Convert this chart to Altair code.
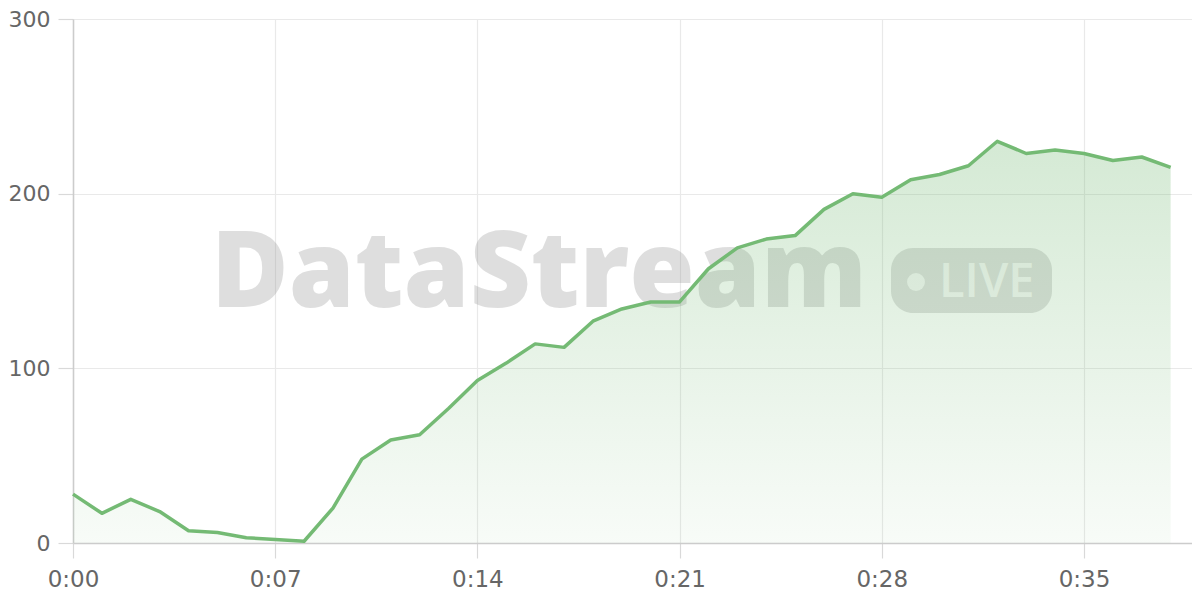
import altair as alt
import pandas as pd

seconds = list(range(39))
values = [28, 17, 25, 18, 7, 6, 3, 2, 1, 20, 48, 59, 62, 77, 93, 103, 114, 112, 127, 134,
          138, 138, 157, 169, 174, 176, 191, 200, 198, 208, 211, 216, 230, 223, 225, 223,
          219, 221, 215]
x_ticks = [0, 7, 14, 21, 28, 35]
y_ticks = [0, 100, 200, 300]
watermark = ["DataStream"]
badge = ["LIVE"]

df = pd.DataFrame({"t": seconds, "v": values})

FONT = "DejaVu Sans"
LINE = "#74ba74"

x_enc = alt.X("t:Q", scale=alt.Scale(domain=[0, 38.74], nice=False, zero=False),
              axis=alt.Axis(values=x_ticks, title=None, labelFlush=False, ticks=True,
                            labelExpr="'0:' + (datum.value < 10 ? '0' : '') + datum.value"))
y_enc = alt.Y("v:Q", scale=alt.Scale(domain=[0, 300], nice=False),
              axis=alt.Axis(values=y_ticks, title=None, labelFlush=False, ticks=True))

wm = alt.Chart(pd.DataFrame({"w": watermark})).mark_text(
    font="Open Sans", fontWeight=800, fontSize=106, align="left", baseline="alphabetic",
    color="#888888", opacity=0.27, limit=0
).encode(x=alt.value(138), y=alt.value(288), text="w:N")

badge_rect = alt.Chart(pd.DataFrame({"w": badge})).mark_rect(
    color="#888888", opacity=0.27, cornerRadius=22
).encode(x=alt.value(818), x2=alt.value(979), y=alt.value(229), y2=alt.value(294))

badge_dot = alt.Chart(pd.DataFrame({"w": badge})).mark_circle(
    color="#ffffff", opacity=0.75, size=320
).encode(x=alt.value(843), y=alt.value(263))

badge_text = alt.Chart(pd.DataFrame({"w": badge})).mark_text(
    font="Open Sans", fontWeight=600, fontSize=47, align="left", baseline="alphabetic",
    color="#ffffff", opacity=0.75
).encode(x=alt.value(866), y=alt.value(278), text="w:N")

base = alt.Chart(df)
area = base.mark_area(
    color=alt.Gradient(
        gradient="linear",
        stops=[alt.GradientStop(color="rgba(114,184,114,0.30)", offset=0),
               alt.GradientStop(color="rgba(114,184,114,0.05)", offset=1)],
        x1=0, x2=0, y1=0, y2=1,
    )
).encode(x=x_enc, y=y_enc)
line = base.mark_line(color=LINE, strokeWidth=3.5, strokeJoin="round").encode(x=x_enc, y=y_enc)

chart = alt.layer(wm, badge_rect, badge_dot, badge_text, area, line).properties(
    width=1119, height=524,
    autosize=alt.AutoSizeParams(type="none"),
    padding={"left": 65, "top": 11, "right": 0, "bottom": 62},
    background="white",
).configure_view(stroke=None).configure_axis(
    labelFont=FONT, labelFontSize=22, labelColor="#666666",
    gridColor="#e9e9e9", gridWidth=1.2, tickColor="#d9d9d9", tickSize=15, tickWidth=1.2,
    domainColor="#cccccc", domainWidth=1.5,
).configure_axisX(labelPadding=10, labelFontSize=23).configure_axisY(labelPadding=8)

chart.save("out.html", embed_options={"renderer": "svg", "actions": False})
